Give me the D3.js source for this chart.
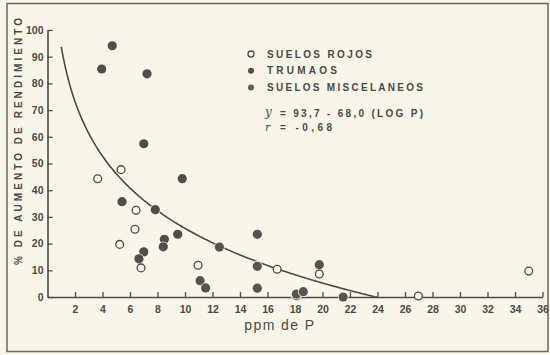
<!DOCTYPE html>
<html>
<head>
<meta charset="utf-8">
<script src="https://cdn.jsdelivr.net/npm/d3@7"></script>
<style>
  body { margin: 0; background: #f8f6e8; }
  svg { display: block; }
  text { font-family: "Liberation Sans", Arial, sans-serif; fill: #4b4a44; }
</style>
</head>
<body>
<svg id="chart" width="550" height="355"></svg>
<script>
// ppm P vs % yield increase
var rojosP = [3.65, 5.35, 5.25, 6.44, 6.36, 6.8, 10.95, 16.7, 19.77, 26.97, 35.0];
var rojosY = [44.3, 47.7, 19.7, 32.5, 25.4, 10.9, 11.9, 10.4, 8.6, 0.4, 9.7];

var trumaosP = [4.71, 3.94, 7.24, 7.0, 5.42, 9.8, 7.84, 9.47, 8.5, 8.42, 7.0, 6.65];
var trumaosY = [94.1, 85.4, 83.6, 57.4, 35.7, 44.3, 32.7, 23.5, 21.6, 18.8, 16.9, 14.3];

var miscP = [11.1, 11.5, 12.5, 15.26, 15.26, 15.26, 18.1, 18.1, 18.6, 19.77, 21.5];
var miscY = [6.1, 3.4, 18.7, 23.5, 11.5, 3.3, 0.5, 1.1, 2.0, 12.1, 0.0];

var xTicks = [2, 4, 6, 8, 10, 12, 14, 16, 18, 20, 22, 24, 26, 28, 30, 32, 34, 36];
var yTicks = [0, 10, 20, 30, 40, 50, 60, 70, 80, 90, 100];

var legendLabels = ["SUELOS ROJOS", "TRUMAOS", "SUELOS MISCELANEOS"];
var legendWidths = [105, 70, 156];
var eqA = 93.7, eqB = 68.0;

function main() {
  var svg = d3.select("#chart");
  var ink = "#4b4a44";
  var bg = "#f8f6e8";

  // outer frame
  svg.append("rect").attr("x", 7).attr("y", 3.5).attr("width", 541).attr("height", 348)
    .attr("fill", "none").attr("stroke", "#6a6962").attr("stroke-width", 1.5);

  var x = d3.scaleLinear().domain([0, 36]).range([47.5, 542.5]);
  var y = d3.scaleLinear().domain([0, 100]).range([297, 30]);

  // axes, ticks pointing inward
  var gx = svg.append("g").attr("transform", "translate(0," + y(0) + ")")
    .call(d3.axisBottom(x).tickValues(xTicks).tickSize(-5).tickSizeOuter(0).tickPadding(9));
  var gy = svg.append("g").attr("transform", "translate(" + x(0) + ",0)")
    .call(d3.axisLeft(y).tickValues(yTicks).tickSize(-5).tickSizeOuter(0).tickPadding(4));

  [gx, gy].forEach(function(g) {
    g.select(".domain").attr("stroke", ink).attr("stroke-width", 1.6);
    g.selectAll(".tick line").attr("stroke", ink).attr("stroke-width", 1.3);
    g.selectAll(".tick text").attr("fill", ink).style("font-size", "10.5px")
      .style("font-weight", "bold").style("font-family", "'Liberation Sans', Arial, sans-serif");
  });

  // axis titles
  svg.append("text").attr("x", x(16.9)).attr("y", 330).attr("text-anchor", "middle")
    .style("font-size", "14px").style("letter-spacing", "1.4px").text("ppm de P");

  svg.append("text").attr("transform", "translate(22,265) rotate(-90)")
    .attr("textLength", 247).attr("lengthAdjust", "spacing")
    .style("font-size", "10px").style("font-weight", "bold").text("% DE AUMENTO DE RENDIMIENTO");

  // fitted curve y = 93.7 - 68.0 log P
  var curveP = d3.range(1.0, 24.05, 0.1);
  var line = d3.line()
    .x(function(p) { return x(p); })
    .y(function(p) { return y(Math.max(0, eqA - eqB * Math.log10(p))); });
  svg.append("path").datum(curveP).attr("d", line)
    .attr("fill", "none").attr("stroke", ink).attr("stroke-width", 1.6);

  // points
  function zip(ps, vs) { return ps.map(function(p, i) { return [p, vs[i]]; }); }

  svg.append("g").selectAll("circle").data(zip(miscP, miscY)).enter().append("circle")
    .attr("cx", function(d) { return x(d[0]); }).attr("cy", function(d) { return y(d[1]); })
    .attr("r", 4.6).attr("fill", "#55544e").attr("stroke", bg).attr("stroke-width", 1.5)
    .style("paint-order", "stroke");

  svg.append("g").selectAll("circle").data(zip(trumaosP, trumaosY)).enter().append("circle")
    .attr("cx", function(d) { return x(d[0]); }).attr("cy", function(d) { return y(d[1]); })
    .attr("r", 4.6).attr("fill", "#4f4e48").attr("stroke", bg).attr("stroke-width", 1.5)
    .style("paint-order", "stroke");

  svg.append("g").selectAll("circle").data(zip(rojosP, rojosY)).enter().append("circle")
    .attr("cx", function(d) { return x(d[0]); }).attr("cy", function(d) { return y(d[1]); })
    .attr("r", 3.9).attr("fill", bg).attr("stroke", ink).attr("stroke-width", 1.3);

  // legend
  var lg = svg.append("g").attr("transform", "translate(251,54)");
  legendLabels.forEach(function(t, i) {
    var c = lg.append("circle").attr("cx", 0).attr("cy", i * 16.8).attr("r", 3);
    if (i === 0) c.attr("fill", "none").attr("stroke", ink).attr("stroke-width", 1.3);
    else c.attr("fill", i === 1 ? "#4f4e48" : "#5c5b55");
    lg.append("text").attr("x", 16).attr("y", i * 16.8 + 3.6)
      .attr("textLength", legendWidths[i]).attr("lengthAdjust", "spacing")
      .style("font-size", "10px").style("font-weight", "bold")
      .text(t);
  });

  // regression equation
  var eq = svg.append("g").attr("transform", "translate(265,0)");
  eq.append("text").attr("x", 0).attr("y", 116)
    .style("font-family", "'DejaVu Serif', serif").style("font-style", "italic")
    .style("font-size", "12px").text("y");
  eq.append("text").attr("x", 15).attr("y", 117)
    .attr("textLength", 143).attr("lengthAdjust", "spacing")
    .style("font-size", "10px").style("font-weight", "bold")
    .text("= 93,7 - 68,0 (LOG P)");
  eq.append("text").attr("x", 0).attr("y", 131)
    .style("font-family", "'DejaVu Serif', serif").style("font-style", "italic")
    .style("font-size", "11px").text("r");
  eq.append("text").attr("x", 15).attr("y", 131)
    .attr("textLength", 52).attr("lengthAdjust", "spacing")
    .style("font-size", "10px").style("font-weight", "bold")
    .text("= -0,68");
}

main();
</script>
</body>
</html>
